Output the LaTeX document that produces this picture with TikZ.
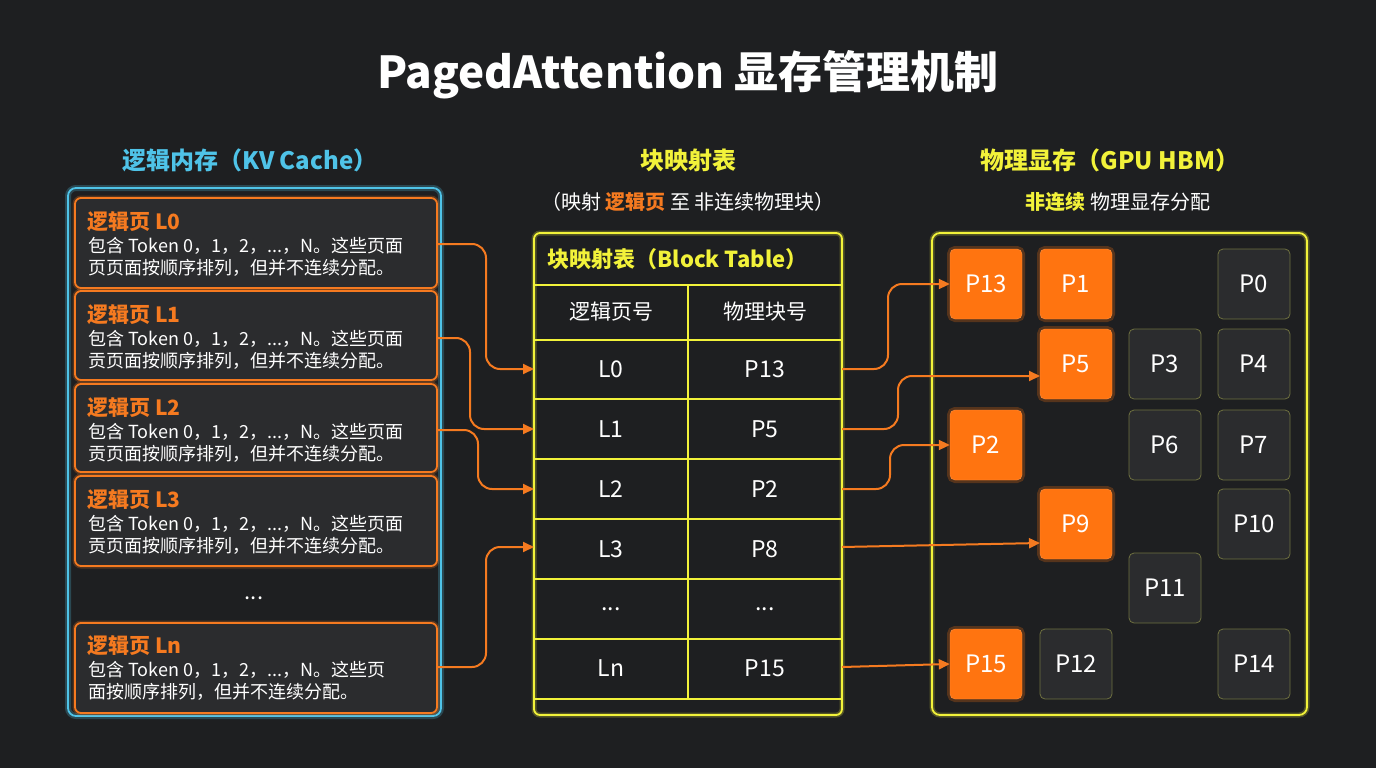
\documentclass[tikz,border=0pt]{standalone}
\usepackage{fontspec}
\setmainfont{Noto Sans CJK SC}
\usetikzlibrary{arrows.meta}
\definecolor{bg}{HTML}{1E1F21}
\definecolor{org}{HTML}{F57A20}
\definecolor{orgf}{HTML}{FF7410}
\definecolor{yel}{HTML}{F2F23A}
\definecolor{cya}{HTML}{4FC3E8}
\definecolor{dk}{HTML}{2B2C2E}
\definecolor{gb}{HTML}{6E7040}
\newcommand\myLA{包含 Token 0，1，2，...，N。这些页面}
\newcommand\myLB{贡页面按顺序排列，但并不连续分配。}
\newcommand\myLBz{页页面按顺序排列，但并不连续分配。}
\newcommand\myDots{...}
\tikzset{x=1pt,y=-1pt,
 glowO/.style={preaction={draw=org,line width=5pt,opacity=0.25}},
 glowY/.style={preaction={draw=yel,line width=5pt,opacity=0.25}},
 lbox/.style={draw=org,line width=1.8pt,rounded corners=6pt,fill=dk,glowO},
 ttl/.style={text=org,font=\fontsize{21}{24}\selectfont\bfseries,anchor=west},
 body/.style={text=white,font=\fontsize{18}{22}\selectfont,anchor=north west,align=left,inner sep=0pt},
 cell/.style={text=white,font=\fontsize{23}{26}\selectfont},
 pblk/.style={minimum width=72pt,minimum height=70pt,rounded corners=5pt,font=\fontsize{24}{26}\selectfont,text=white},
 po/.style={pblk,fill=orgf,draw=orgf!80!white,preaction={draw=orgf,line width=6pt,opacity=0.25}},
 pd/.style={pblk,fill=dk,draw=gb,line width=0.8pt},
 arr/.style={draw=org,line width=2pt,rounded corners=14pt,-{Triangle[length=11pt,width=10pt]}},
}
\begin{document}
\begin{tikzpicture}
\fill[bg] (0,0) rectangle (1376,768);
\node[text=white,font=\fontsize{44}{50}\selectfont\bfseries] (title) at (688,75) {PagedAttention 显存管理机制};
% left
\node[text=cya,font=\fontsize{24}{28}\selectfont\bfseries] (lh) at (250,160) {逻辑内存（KV Cache）};
\draw[cya,line width=1.8pt,rounded corners=8pt,preaction={draw=cya,line width=6pt,opacity=0.25}] (68,188) rectangle (441,716);
\foreach \n/\t/\b/\lab/\lb in {0/198/288/L0/\myLBz, 1/291/380/L1/\myLB, 2/384/472/L2/\myLB, 3/476/566/L3/\myLB}{
  \draw[lbox] (75,\t) rectangle (437,\b);
  \node[ttl] (lt\n) at (84,\t+24) {逻辑页 \lab};
  \node[body] (lb\n) at (88,\t+39) {\myLA\\\lb};
}
\node[text=white,font=\fontsize{22}{24}\selectfont] (ldots) at (254,598) {\myDots};
\draw[lbox] (75,623) rectangle (437,713);
\node[ttl] (ltn) at (84,646) {逻辑页 Ln};
\node[body] (lbn) at (88,661) {包含 Token 0，1，2，\myDots，N。这些页\\面按顺序排列，但并不连续分配。};
\coordinate (o0) at (437,244); \coordinate (o1) at (437,338);
\coordinate (o2) at (437,430); \coordinate (on) at (437,667);
% middle
\node[text=yel,font=\fontsize{24}{28}\selectfont\bfseries] (mh) at (688,160) {块映射表};
\node[text=white,font=\fontsize{20}{24}\selectfont] (ms) at (688,202) {（映射 \textcolor{org}{\bfseries 逻辑页} 至 非连续物理块）};
\draw[yel,line width=1.8pt,rounded corners=6pt,glowY] (534,233) rectangle (842,715);
\foreach \y in {285,340,399,459,519,579,639} \draw[yel,line width=1.4pt] (534,\y) -- (842,\y);
\draw[yel,line width=1.4pt] (688,285) -- (688,699);
\draw[yel,line width=1.4pt] (534,699) -- (842,699);
\node[text=yel,font=\fontsize{22}{26}\selectfont\bfseries,anchor=west] (bt) at (544,259) {块映射表（Block Table）};
\node[cell,font=\fontsize{21}{24}\selectfont] (h1) at (611,312) {逻辑页号};
\node[cell,font=\fontsize{21}{24}\selectfont] (h2) at (765,312) {物理块号};
\foreach \i/\y/\a/\b in {0/369/L0/P13,1/429/L1/P5,2/489/L2/P2,3/549/L3/P8,4/609/\myDots/\myDots,5/668/Ln/P15}{
  \node[cell] (ra\i) at (611,\y) {\a};
  \node[cell] (rb\i) at (765,\y) {\b};
}
\coordinate (i0) at (534,369); \coordinate (i1) at (534,429); \coordinate (i2) at (534,489); \coordinate (i3) at (534,547);
\coordinate (e0) at (842,369); \coordinate (e1) at (842,429); \coordinate (e2) at (842,489); \coordinate (e3) at (842,547); \coordinate (e5) at (842,667);
% right
\node[text=yel,font=\fontsize{24}{28}\selectfont\bfseries] (rh) at (1110,160) {物理显存（GPU HBM）};
\node[text=white,font=\fontsize{20}{24}\selectfont] (rs) at (1118,202) {\textcolor{yel}{\bfseries 非连续} 物理显存分配};
\draw[yel,line width=1.8pt,rounded corners=8pt,glowY] (932,233) rectangle (1307,715);
\node[po] (P13) at (986,284) {P13};
\node[po] (P1) at (1076,284) {P1};
\node[pd] (P0) at (1254,284) {P0};
\node[po] (P5) at (1076,364) {P5};
\node[pd] (P3) at (1165,364) {P3};
\node[pd] (P4) at (1254,364) {P4};
\node[po] (P2) at (986,445) {P2};
\node[pd] (P6) at (1165,445) {P6};
\node[pd] (P7) at (1254,445) {P7};
\node[po] (P9) at (1076,524) {P9};
\node[pd] (P10) at (1254,524) {P10};
\node[pd] (P11) at (1165,588) {P11};
\node[po] (P15) at (986,664) {P15};
\node[pd] (P12) at (1076,664) {P12};
\node[pd] (P14) at (1254,664) {P14};
\coordinate (P5in) at (1040,376);
\coordinate (P9in) at (1040,543);
% arrows
\draw[arr] (o0) -- (486,244) -- (486,369) -- (i0);
\draw[arr] (o1) -- (470,338) -- (470,429) -- (i1);
\draw[arr] (o2) -- (478,430) -- (478,489) -- (i2);
\draw[arr] (on) -- (486,667) -- (486,547) -- (i3);
\draw[arr] (e0) -- (888,369) -- (888,284) -- (P13.west);
\draw[arr] (e1) -- (898,429) -- (898,376) -- (P5in);
\draw[arr] (e2) -- (890,489) -- (890,445) -- (P2.west);
\draw[arr,rounded corners=0pt] (e3) -- (P9in);
\draw[arr] (e5) -- (P15.west);
\end{tikzpicture}
\end{document}
